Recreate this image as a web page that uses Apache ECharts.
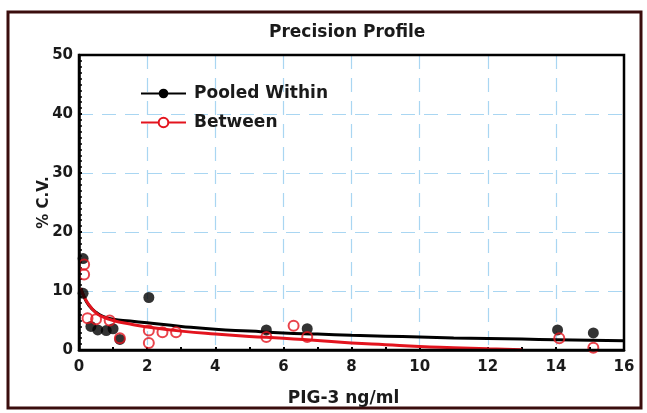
<!DOCTYPE html>
<html>
<head>
<meta charset="utf-8">
<script src="https://cdn.jsdelivr.net/npm/echarts@6/dist/echarts.min.js"></script>
<style>
html,body{margin:0;padding:0;background:#fff;}
#chart{width:647px;height:413px;}
</style>
</head>
<body>
<div id="chart"></div>
<script>
// Fitted curve: Pooled Within
const pooledCurveX = [0.05,0.15,0.3,0.5,0.7,1,1.5,2,3,4,5,6,7,8,9,10,11,12,13,14,15,16];
const pooledCurveY = [10.5,9,7.5,6.4,5.7,5.2,4.9,4.6,4.0,3.5,3.2,2.9,2.7,2.5,2.35,2.2,2.05,1.95,1.85,1.75,1.65,1.55];
// Fitted curve: Between
const betweenCurveX = [0.05,0.15,0.3,0.5,0.7,1,1.5,2,3,4,5,6,7,8,9,10,11,12,13];
const betweenCurveY = [10.5,9,7.6,6.3,5.6,5.0,4.4,3.9,3.2,2.7,2.3,2.0,1.6,1.2,0.9,0.6,0.4,0.2,0.05];
// Observed points: Pooled Within
const pooledX = [0.12,0.12,0.35,0.55,0.8,1.0,1.2,2.05,5.5,6.7,14.05,15.1];
const pooledY = [15.5,9.6,4.0,3.4,3.3,3.6,1.8,8.9,3.4,3.6,3.4,2.9];
// Observed points: Between
const betweenX = [0.15,0.15,0.25,0.5,0.9,1.2,2.05,2.05,2.45,2.85,5.5,6.3,6.7,14.1,15.1];
const betweenY = [14.5,12.8,5.4,5.2,5.0,2.0,3.3,1.2,3.0,3.0,2.2,4.1,2.2,2.0,0.4];
// Axis ticks
const xTicks = [0,2,4,6,8,10,12,14,16];
const yTicks = [0,10,20,30,40,50];

const zip = (xs, ys) => xs.map((x, i) => [x, ys[i]]);
const FONT = 'DejaVu Sans';
const TXT = '#1a1a1a';
const GRID = {left: 79, right: 23, top: 55, bottom: 63};

const chart = echarts.init(document.getElementById('chart'));
chart.setOption({
  animation: false,
  backgroundColor: '#fff',
  title: {
    text: 'Precision Profile',
    left: 264,
    top: 19,
    textStyle: {fontFamily: FONT, fontSize: 17, fontWeight: 'bold', color: TXT}
  },
  legend: {
    orient: 'vertical',
    left: 135,
    top: 80,
    itemWidth: 45,
    itemHeight: 12,
    itemGap: 12,
    data: ['Pooled Within', 'Between'],
    textStyle: {fontFamily: FONT, fontSize: 17, fontWeight: 'bold', color: TXT, padding: [0,0,0,3]}
  },
  graphic: [{
    type: 'rect',
    shape: {x: 8, y: 12, width: 633, height: 396},
    style: {fill: 'none', stroke: '#3a0d0d', lineWidth: 3},
    silent: true
  }, {
    type: 'rect',
    shape: {x: GRID.left, y: GRID.top, width: 647 - GRID.left - GRID.right, height: 413 - GRID.top - GRID.bottom},
    style: {fill: 'none', stroke: '#000', lineWidth: 2.5},
    silent: true,
    z: 100
  }],
  grid: Object.assign({show: false}, GRID),
  xAxis: {
    type: 'value',
    min: xTicks[0], max: xTicks[xTicks.length - 1], interval: 2,
    name: 'PIG-3 ng/ml',
    nameLocation: 'middle',
    nameGap: 40,
    nameMoveOverlap: false,
    nameTextStyle: {fontFamily: FONT, fontSize: 17, fontWeight: 'bold', color: TXT, padding: [0,16,0,0]},
    axisLine: {lineStyle: {color: '#000', width: 2.5}},
    axisTick: {inside: true, length: 3, lineStyle: {color: '#000', width: 2}},
    minorTick: {show: true, splitNumber: 2, length: 3, lineStyle: {color: '#000', width: 2}},
    axisLabel: {fontFamily: FONT, fontSize: 15, fontWeight: 'bold', color: TXT, margin: 10,
      formatter: v => xTicks.includes(v) ? String(v) : ''},
    splitLine: {show: true, showMinLine: false, showMaxLine: false,
      lineStyle: {color: '#a9d6f2', type: [14, 9], width: 1.2}}
  },
  yAxis: {
    type: 'value',
    min: yTicks[0], max: yTicks[yTicks.length - 1], interval: 10,
    name: '% C.V.',
    nameLocation: 'middle',
    nameGap: 27,
    nameMoveOverlap: false,
    nameTextStyle: {fontFamily: FONT, fontSize: 15, fontWeight: 'bold', color: TXT},
    axisLine: {lineStyle: {color: '#000', width: 2.5}},
    axisTick: {inside: true, length: 3, lineStyle: {color: '#000', width: 2}},
    minorTick: {show: true, splitNumber: 10, length: 3, lineStyle: {color: '#000', width: 1.5}},
    axisLabel: {fontFamily: FONT, fontSize: 15, fontWeight: 'bold', color: TXT, margin: 6,
      formatter: v => yTicks.includes(v) ? String(v) : ''},
    splitLine: {show: true, showMinLine: false, showMaxLine: false,
      lineStyle: {color: '#a9d6f2', type: [14, 9], width: 1.2}}
  },
  series: [
    {
      name: 'Pooled Within', type: 'line', smooth: true,
      data: zip(pooledCurveX, pooledCurveY),
      symbol: 'circle', symbolSize: 10, showSymbol: false,
      itemStyle: {color: '#000'},
      lineStyle: {color: '#000', width: 3},
      z: 2
    },
    {
      name: 'Between', type: 'line', smooth: true,
      data: zip(betweenCurveX, betweenCurveY),
      symbol: 'circle', symbolSize: 10, showSymbol: false,
      itemStyle: {color: '#fff', borderColor: '#e3141e', borderWidth: 2},
      lineStyle: {color: '#e3141e', width: 3},
      z: 3
    },
    {
      name: 'Pooled Within', type: 'scatter',
      data: zip(pooledX, pooledY),
      symbol: 'circle', symbolSize: 11,
      itemStyle: {color: '#000'},
      z: 4
    },
    {
      name: 'Between', type: 'scatter',
      data: zip(betweenX, betweenY),
      symbol: 'circle', symbolSize: 10,
      itemStyle: {color: 'rgba(255,255,255,0)', borderColor: '#e3141e', borderWidth: 2},
      z: 5
    }
  ]
});
</script>
</body>
</html>
